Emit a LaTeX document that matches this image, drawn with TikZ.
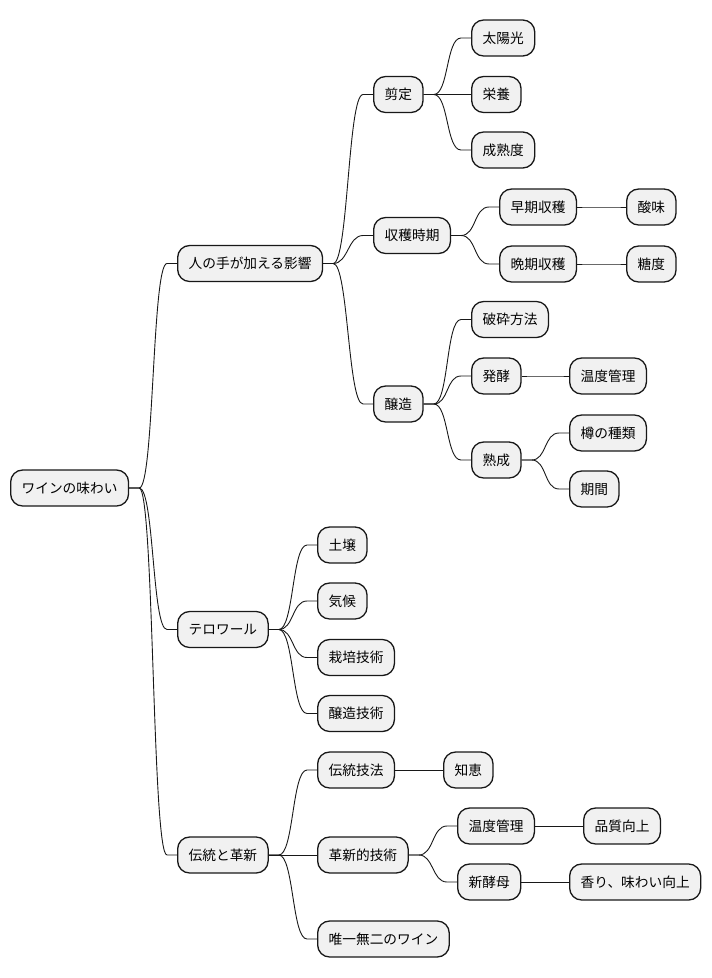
\documentclass[tikz,border=0pt]{standalone}
\usepackage{fontspec}
\setmainfont{Noto Sans CJK JP}
\definecolor{boxfill}{HTML}{F1F1F1}
\definecolor{boxline}{HTML}{181818}
\begin{document}
\begin{tikzpicture}[x=1pt,y=-1pt,
  box/.style={draw=boxline, line width=1.3pt, fill=boxfill, rounded corners=12pt,
    minimum height=36pt, inner xsep=11pt, inner ysep=0pt, anchor=west,
    font=\fontsize{13.7}{16}\selectfont, text=black},
  link/.style={draw=boxline, line width=0.9pt,
    to path={(\tikztostart) -- ([xshift=10pt]\tikztostart)
      .. controls ([xshift=25pt]\tikztostart) and ([xshift=-25pt]\tikztotarget)
      .. ([xshift=-10pt]\tikztotarget) -- (\tikztotarget)}}]
\useasboundingbox (0,0) rectangle (712,978);
% nodes
\node[box] (root) at (10,488) {ワインの味わい};
\node[box] (h) at (177,263.5) {人の手が加える影響};
\node[box] (t) at (177,629.5) {テロワール};
\node[box] (d) at (177,855) {伝統と革新};
\node[box] (h1) at (373,94.5) {剪定};
\node[box] (h2) at (373,235.5) {収穫時期};
\node[box] (h3) at (373,404) {醸造};
\node[box] (h11) at (471,38) {太陽光};
\node[box] (h12) at (471,94.5) {栄養};
\node[box] (h13) at (471,150) {成熟度};
\node[box] (h21) at (499,207) {早期収穫};
\node[box] (h211) at (626,207) {酸味};
\node[box] (h22) at (499,264) {晩期収穫};
\node[box] (h221) at (626,264) {糖度};
\node[box] (h31) at (471,319.5) {破砕方法};
\node[box] (h32) at (471,376) {発酵};
\node[box] (h321) at (569,376) {温度管理};
\node[box] (h33) at (471,460) {熟成};
\node[box] (h331) at (569,433) {樽の種類};
\node[box] (h332) at (569,489) {期間};
\node[box] (t1) at (317,545) {土壌};
\node[box] (t2) at (317,601) {気候};
\node[box] (t3) at (317,657.5) {栽培技術};
\node[box] (t4) at (317,713.5) {醸造技術};
\node[box] (d1) at (317,770) {伝統技法};
\node[box] (d11) at (443,770) {知恵};
\node[box] (d2) at (317,855) {革新的技術};
\node[box] (d21) at (457,826) {温度管理};
\node[box] (d211) at (583,826) {品質向上};
\node[box] (d22) at (457,882) {新酵母};
\node[box] (d221) at (569,882) {香り、味わい向上};
\node[box] (d3) at (317,939) {唯一無二のワイン};
% connectors
\foreach \a/\b in {root/h,root/t,root/d,
  h/h1,h/h2,h/h3,h1/h11,h1/h12,h1/h13,
  h2/h21,h2/h22,h21/h211,h22/h221,
  h3/h31,h3/h32,h3/h33,h32/h321,h33/h331,h33/h332,
  t/t1,t/t2,t/t3,t/t4,
  d/d1,d/d2,d/d3,d1/d11,d2/d21,d2/d22,d21/d211,d22/d221}
  \draw[link] (\a.east) to (\b.west);
\end{tikzpicture}
\end{document}
